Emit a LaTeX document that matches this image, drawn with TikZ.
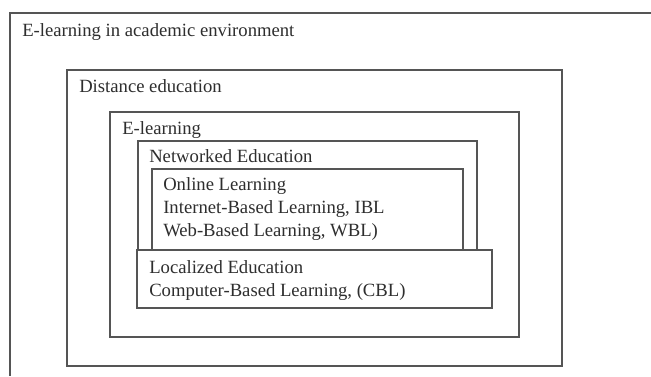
\documentclass[tikz,border=0pt]{standalone}
\usepackage{fontspec}
\setmainfont{Liberation Serif}
\definecolor{linegray}{HTML}{555555}
\definecolor{textgray}{HTML}{2E2E2E}
\tikzset{
  box/.style={draw=linegray,line width=1.1pt},
  lbl/.style={anchor=base west,inner sep=0pt,text=textgray,font=\fontsize{14}{16.8}\selectfont}
}
\begin{document}
\begin{tikzpicture}[x=0.75pt,y=-0.75pt]
\useasboundingbox[fill=white](0,0)rectangle(651,376);
% frames
\draw[box](651,13)--(10,13)--(10,376);
\draw[box](67,70)rectangle(562,366);
\draw[box](110,112)rectangle(519,337);
\draw[box](138,141)rectangle(477,250);
\draw[box](152,169)rectangle(463,250);
\draw[box,fill=white](137,250)rectangle(492,308);
%
\node[lbl](acad) at (22,36){E-learning in academic environment};
\node[lbl](dist) at (79,92){Distance education};
\node[lbl](elrn) at (122,134){E-learning};
\node[lbl](netw) at (149,162){Networked Education};
\node[lbl](onl1) at (163,190){Online Learning};
\node[lbl](onl2) at (163,213){Internet-Based Learning, IBL};
\node[lbl](onl3) at (163,236){Web-Based Learning, WBL)};
\node[lbl](loc1) at (149,273){Localized Education};
\node[lbl](loc2) at (149,296){Computer-Based Learning, (CBL)};
\end{tikzpicture}
\end{document}
